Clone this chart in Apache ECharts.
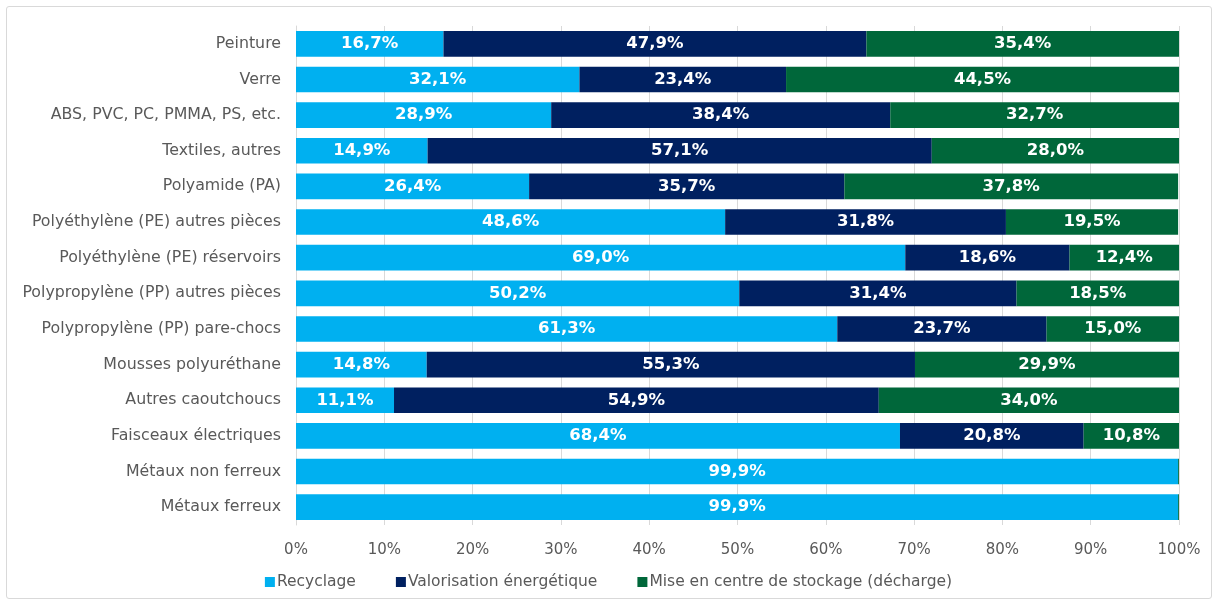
<!DOCTYPE html>
<html>
<head>
<meta charset="utf-8">
<script src="https://cdn.jsdelivr.net/npm/echarts@6/dist/echarts.min.js"></script>
<style>
  html, body { margin: 0; padding: 0; background: #fff; }
  #frame { position: absolute; left: 6px; top: 6px; width: 1204px; height: 591px; border: 1px solid #d9d9d9; border-radius: 3px; }
  #chart { position: absolute; left: 0; top: 0; width: 1217px; height: 604px; }
</style>
</head>
<body>
<div id="frame"></div>
<div id="chart"></div>
<script>
  const categories = [
    'Peinture', 'Verre', 'ABS, PVC, PC, PMMA, PS, etc.', 'Textiles, autres', 'Polyamide (PA)',
    'Polyéthylène (PE) autres pièces', 'Polyéthylène (PE) réservoirs', 'Polypropylène (PP) autres pièces',
    'Polypropylène (PP) pare-chocs', 'Mousses polyuréthane', 'Autres caoutchoucs',
    'Faisceaux électriques', 'Métaux non ferreux', 'Métaux ferreux'
  ];
  const recyclage =    [16.7, 32.1, 28.9, 14.9, 26.4, 48.6, 69.0, 50.2, 61.3, 14.8, 11.1, 68.4, 99.9, 99.9];
  const valorisation = [47.9, 23.4, 38.4, 57.1, 35.7, 31.8, 18.6, 31.4, 23.7, 55.3, 54.9, 20.8, 0, 0];
  const decharge =     [35.4, 44.5, 32.7, 28.0, 37.8, 19.5, 12.4, 18.5, 15.0, 29.9, 34.0, 10.8, 0.1, 0.1];

  const font = 'Verdana, "DejaVu Sans", sans-serif';
  // 0 et 0,1 % : pas d'étiquette
  const fmt = p => p.value < 1 ? '' : p.value.toFixed(1).replace('.', ',') + '%';

  const mkSeries = (name, data, color) => ({
    name: name,
    type: 'bar',
    stack: 'total',
    data: data,
    barCategoryGap: '28%',
    itemStyle: { color: color },
    label: {
      show: true,
      position: 'inside',
      formatter: fmt,
      color: '#fff',
      fontFamily: font,
      fontWeight: 'bold',
      fontSize: 16.5
    }
  });

  const chart = echarts.init(document.getElementById('chart'));
  chart.setOption({
    animation: false,
    textStyle: { fontFamily: font },
    grid: { left: 296, right: 38, top: 26, bottom: 79, containLabel: false },
    legend: {
      bottom: 9,
      left: 'center',
      itemWidth: 10,
      itemHeight: 10,
      itemGap: 40,
      icon: 'rect',
      textStyle: { fontFamily: font, fontSize: 15.5, color: '#595959', padding: [0, 0, 0, -3] },
      data: ['Recyclage', 'Valorisation énergétique', 'Mise en centre de stockage (décharge)']
    },
    xAxis: {
      type: 'value',
      min: 0,
      max: 100,
      interval: 10,
      axisLabel: { formatter: '{value}%', fontSize: 15, color: '#595959', margin: 18, fontFamily: font },
      splitLine: { lineStyle: { color: '#d9d9d9' } },
      axisLine: { show: false },
      axisTick: { show: false }
    },
    yAxis: {
      type: 'category',
      inverse: true,
      data: categories,
      axisLabel: { fontSize: 15.8, color: '#595959', margin: 15, fontFamily: font },
      axisLine: { show: true, lineStyle: { color: '#d9d9d9' } },
      axisTick: { show: false }
    },
    series: [
      mkSeries('Recyclage', recyclage, '#00b0f0'),
      mkSeries('Valorisation énergétique', valorisation, '#002060'),
      mkSeries('Mise en centre de stockage (décharge)', decharge, '#00673a')
    ]
  });
</script>
</body>
</html>
